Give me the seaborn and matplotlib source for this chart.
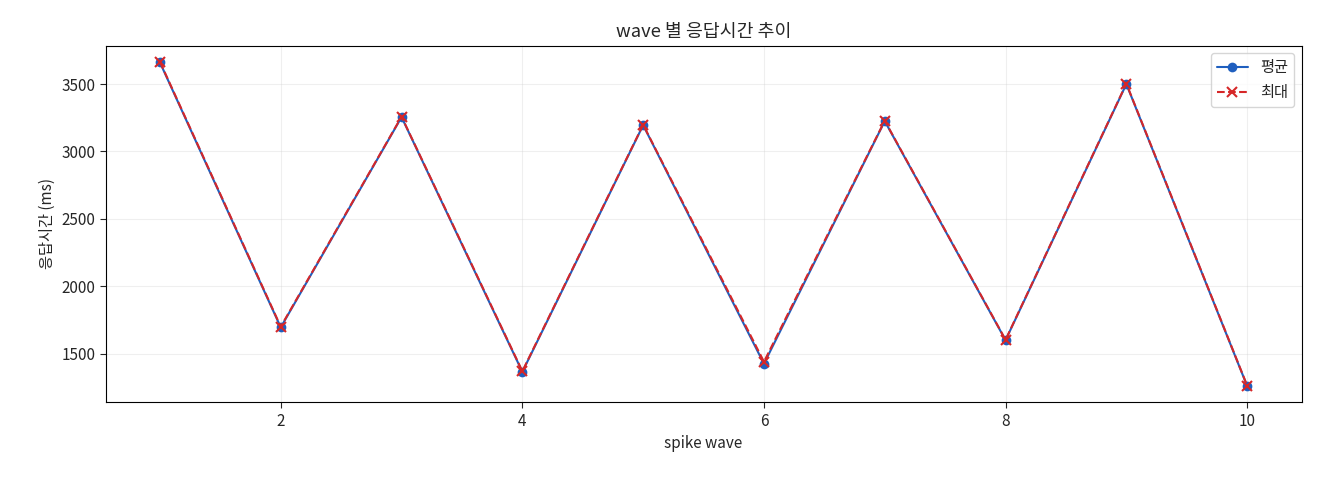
import matplotlib
matplotlib.use("Agg")
import matplotlib.pyplot as plt
import seaborn as sns
import pandas as pd

waves = [1, 2, 3, 4, 5, 6, 7, 8, 9, 10]
avg_ms = [3660, 1695, 3255, 1365, 3195, 1425, 3225, 1600, 3500, 1260]
max_ms = [3665, 1700, 3258, 1370, 3198, 1440, 3228, 1603, 3503, 1263]

sns.set_style("white")
plt.rcParams['font.family'] = ['Noto Sans CJK KR', 'DejaVu Sans']
plt.rcParams['axes.unicode_minus'] = False
plt.rcParams['font.size'] = 11

df = pd.DataFrame({"wave": waves, "avg": avg_ms, "max": max_ms})
fig, ax = plt.subplots(figsize=(13.2, 4.8), dpi=100)
sns.lineplot(data=df, x="wave", y="avg", ax=ax, color="#1f5fbf", marker="o",
             markersize=7, markeredgewidth=0, linewidth=1.5, label="평균")
sns.lineplot(data=df, x="wave", y="max", ax=ax, color="#d62728", marker="x",
             markersize=7, markeredgecolor="#d62728", markeredgewidth=1.5,
             linewidth=1.5, label="최대")
ax.lines[1].set_linestyle("--")
ax.grid(True, alpha=0.3)
for s in ax.spines.values():
    s.set_color("black"); s.set_linewidth(0.8)
ax.set_title("wave 별 응답시간 추이")
ax.set_xlabel("spike wave")
ax.set_ylabel("응답시간 (ms)")
ax.tick_params(axis="both", direction="out", length=4, left=True, bottom=True)
ax.legend(loc="upper right")
fig.subplots_adjust(left=0.08, right=0.986, top=0.905, bottom=0.162)
fig.savefig("out.png")
